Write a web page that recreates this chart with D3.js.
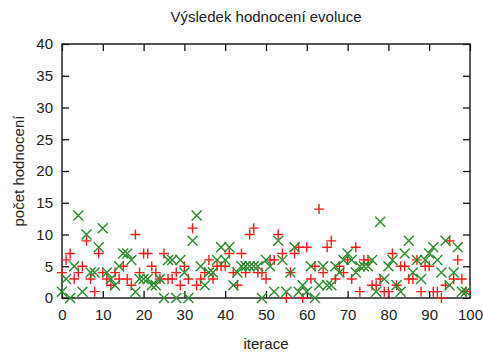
<!DOCTYPE html>
<html>
<head>
<meta charset="utf-8">
<script src="https://cdn.jsdelivr.net/npm/d3@7"></script>
<style>
  body { margin: 0; background: #fff; }
  svg { display: block; font-family: 'Liberation Sans', Arial, sans-serif; }
</style>
</head>
<body>
<div id="chart"></div>
<script>
// iterations 0..99, one red (+) and one green (x) value per iteration
const redValues = [
  4, 6, 7, 3, 4, 5, 9, 3, 1, 7,
  4, 3, 2, 4, 3, 5, 3, 2, 10, 4,
  7, 7, 5, 4, 3, 7, 3, 3, 4, 2,
  5, 3, 11, 2, 3, 4, 6, 3, 5, 5,
  5, 7, 4, 2, 7, 4, 10, 11, 4, 4,
  3, 6, 6, 10, 7, 0, 4, 7, 8, 0,
  8, 3, 5, 14, 4, 8, 9, 3, 5, 4,
  6, 3, 8, 1, 6, 6, 2, 2, 3, 1,
  1, 7, 2, 5, 5, 3, 3, 6, 1, 5,
  5, 1, 1, 0, 2, 9, 3, 6, 3, 1
]
const greenValues = [
  1, 3, 0, 5, 13, 1, 10, 4, 4, 8,
  11, 4, 3, 2, 5, 7, 7, 6, 1, 3,
  3, 3, 2, 2, 3, 0, 6, 6, 0, 6,
  4, 0, 9, 13, 5, 2, 4, 4, 6, 8,
  6, 8, 2, 4, 5, 5, 5, 5, 5, 0,
  6, 5, 1, 9, 6, 1, 4, 8, 1, 2,
  1, 5, 0, 2, 5, 2, 2, 5, 4, 6,
  7, 6, 4, 5, 5, 5, 6, 1, 12, 3,
  5, 6, 2, 1, 7, 9, 4, 6, 3, 6,
  7, 8, 6, 4, 9, 2, 4, 8, 1, 1
]
const xTicks = [0, 10, 20, 30, 40, 50, 60, 70, 80, 90, 100]
const yTicks = [0, 5, 10, 15, 20, 25, 30, 35, 40]

const width = 483
const height = 358
const margin = { top: 44, right: 13, bottom: 60, left: 62 }
const fontSize = '15px'

const svg = d3.select('#chart')
  .append('svg')
  .attr('width', width)
  .attr('height', height)

const x = d3.scaleLinear()
  .domain([0, 100])
  .range([margin.left, width - margin.right])

const y = d3.scaleLinear()
  .domain([0, 40])
  .range([height - margin.bottom, margin.top])

const tickLen = 7

const styleAxis = (g) => {
  g.select('.domain').remove()
  g.selectAll('.tick line').attr('stroke', '#000').attr('stroke-width', 1.2)
  g.selectAll('.tick text')
    .attr('fill', '#222')
    .style('font-size', fontSize)
}

// bottom axis, ticks pointing inward
svg.append('g')
  .attr('transform', `translate(0, ${y(0)})`)
  .call(d3.axisBottom(x).tickValues(xTicks).tickSize(-tickLen).tickPadding(11))
  .call(styleAxis)

// top mirror ticks
svg.append('g')
  .attr('transform', `translate(0, ${y(40)})`)
  .call(d3.axisTop(x).tickValues(xTicks).tickSize(-tickLen).tickFormat(''))
  .call(styleAxis)

// left axis
svg.append('g')
  .attr('transform', `translate(${x(0)}, 0)`)
  .call(d3.axisLeft(y).tickValues(yTicks).tickSize(-tickLen).tickPadding(9))
  .call(styleAxis)

// right mirror ticks
svg.append('g')
  .attr('transform', `translate(${x(100)}, 0)`)
  .call(d3.axisRight(y).tickValues(yTicks).tickSize(-tickLen).tickFormat(''))
  .call(styleAxis)

// frame
svg.append('rect')
  .attr('x', x(0))
  .attr('y', y(40))
  .attr('width', x(100) - x(0))
  .attr('height', y(0) - y(40))
  .attr('fill', 'none')
  .attr('stroke', '#222')
  .attr('stroke-width', 1.5)

const s = 5 // marker half size

// red plus markers
svg.append('g')
  .selectAll('path')
  .data(redValues)
  .join('path')
  .attr('d', (d, i) => {
    const cx = x(i), cy = y(d)
    return `M${cx - s},${cy}H${cx + s}M${cx},${cy - s}V${cy + s}`
  })
  .attr('stroke', '#ff1a1a')
  .attr('stroke-width', 1.4)
  .attr('fill', 'none')

// green cross markers
svg.append('g')
  .selectAll('path')
  .data(greenValues)
  .join('path')
  .attr('d', (d, i) => {
    const cx = x(i), cy = y(d)
    return `M${cx - s},${cy - s}L${cx + s},${cy + s}M${cx - s},${cy + s}L${cx + s},${cy - s}`
  })
  .attr('stroke', '#2a8c2a')
  .attr('stroke-width', 1.4)
  .attr('fill', 'none')

// title and axis labels
svg.append('text')
  .attr('x', (x(0) + x(100)) / 2)
  .attr('y', 22)
  .attr('text-anchor', 'middle')
  .style('font-size', fontSize)
  .attr('fill', '#222')
  .text('Výsledek hodnocení evoluce')

svg.append('text')
  .attr('x', (x(0) + x(100)) / 2)
  .attr('y', 349)
  .attr('text-anchor', 'middle')
  .style('font-size', fontSize)
  .attr('fill', '#222')
  .text('iterace')

svg.append('text')
  .attr('transform', `translate(24, ${(y(0) + y(40)) / 2}) rotate(-90)`)
  .attr('text-anchor', 'middle')
  .style('font-size', fontSize)
  .attr('fill', '#222')
  .text('počet hodnocení')
</script>
</body>
</html>
